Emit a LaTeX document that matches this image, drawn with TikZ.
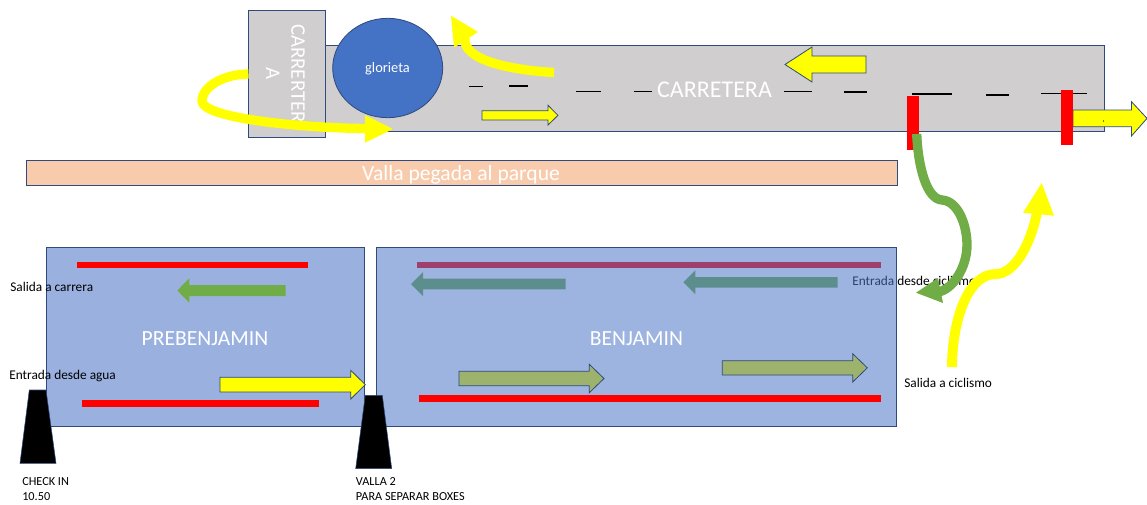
\documentclass[tikz,border=0pt]{standalone}
\usepackage{fontspec}
\setmainfont{Carlito}
\definecolor{edge}{HTML}{2F4A7C}
\definecolor{road}{HTML}{D0CECE}
\definecolor{blob}{HTML}{4472C4}
\definecolor{peach}{HTML}{F8CBAD}
\definecolor{preb}{HTML}{9AB1DF}
\definecolor{benj}{HTML}{4D75C7}
\definecolor{grn}{HTML}{70AD47}
\definecolor{yel}{HTML}{FFFF00}
\definecolor{redd}{HTML}{FF0000}
\newcommand{\rightblock}[7]{(#1,#4) -- (#2,#4) -- (#2,#6) -- (#3,{(#4+#5)/2}) -- (#2,#7) -- (#2,#5) -- (#1,#5) -- cycle}
\tikzset{
  x=0.75pt,y=-0.75pt,
  roadbox/.style={draw=edge,fill=road,line width=0.6pt},
  dashline/.style={draw=black,line width=0.8pt},
  barline/.style={fill=redd,draw=none},
  outarrow/.style={draw=edge,line width=0.6pt,fill=yel},
  flat/.style={fill=grn,draw=none},
  curvey/.style={draw=yel,line width=7pt},
  curveg/.style={draw=grn,line width=7pt},
  wtext/.style={text=white,inner sep=0pt,anchor=center},
  ktext/.style={text=black,inner sep=0pt,anchor=base west,font=\fontsize{10pt}{12pt}\selectfont},
  caps/.style={ktext,font=\fontsize{9.2pt}{11pt}\selectfont},
  cone/.style={fill=black,draw=edge,line width=0.4pt},
}
\begin{document}
\begin{tikzpicture}
\useasboundingbox (0,0) rectangle (1147,504);
% road
\draw[roadbox] (325,45) rectangle (1104.5,131);
\draw[roadbox] (248.5,10) rectangle (325,137);
\node[wtext,rotate=-90,align=center,font=\fontsize{15.6pt}{19pt}\selectfont] (cv) at (285.5,73.5) {CARRERTER\\A};
\draw[draw=edge,line width=0.6pt,fill=blob] (387.7,68) ellipse [x radius=55,y radius=49.7];
\node[wtext,font=\fontsize{10.8pt}{13pt}\selectfont] (glo) at (387.5,68.5) {glorieta};
% dashes
\foreach \a/\b/\y in {469/483/86.5,509/528/86,576/601/91.5,634/652/91.5,784/812/91.5,844/867/92,912/952/94,986/1009/95,1041/1087/93.5}
  \draw[dashline] (\a,\y) -- (\b,\y);
\node[wtext,font=\fontsize{18pt}{21pt}\selectfont] (car) at (714.5,90) {CARRETERA};
% road arrows
\draw[outarrow] \rightblock{482}{548}{558}{110.7}{120}{105.3}{125};
\draw[outarrow] (866,56) -- (812,56) -- (812,47) -- (785,64.5) -- (812,82) -- (812,73) -- (866,73) -- cycle;
\draw[outarrow] \rightblock{1073}{1131.5}{1147}{110}{126.7}{101.7}{136};
\fill[black] (1103.5,121) circle (0.7);
\fill[barline] (907.3,96) rectangle (919.3,150);
\fill[barline] (1061,90) rectangle (1073,144.7);
% fence
\draw[draw=edge,line width=0.6pt,fill=peach] (26,160) rectangle (897,185);
\node[wtext,font=\fontsize{16.2pt}{19pt}\selectfont] (valla) at (461,174.5) {Valla pegada al parque};
% prebenjamin
\draw[draw=edge,line width=0.6pt,fill=preb] (46.7,247.7) rectangle (364.3,426.7);
\fill[barline] (77,262) rectangle (307.7,268);
\fill[barline] (82,400) rectangle (319,407);
\fill[flat] (285.7,285) -- (189.3,285) -- (189.3,278.3) -- (177.3,290.5) -- (189.3,302.7) -- (189.3,296) -- (285.7,296) -- cycle;
\draw[outarrow] \rightblock{220}{350.7}{365.3}{377.3}{392}{370.3}{399};
\node[wtext,font=\fontsize{16.2pt}{19pt}\selectfont] (pre) at (205,339) {PREBENJAMIN};
\node[ktext] (sc) at (10,291.5) {Salida a carrera};
\node[ktext] (ea) at (9,379.5) {Entrada desde agua};
% benjamin: the box lies over its arrows and top line
\node[ktext] (ec) at (852,285) {Entrada desde ciclismo};
\fill[barline] (417,262) rectangle (881,268);
\fill[flat] (565.7,278.7) -- (423,278.7) -- (423,272) -- (411,284) -- (423,296) -- (423,289.3) -- (565.7,289.3) -- cycle;
\fill[flat] (837.7,277) -- (695.3,277) -- (695.3,270.3) -- (683.3,282.3) -- (695.3,294.3) -- (695.3,287.7) -- (837.7,287.7) -- cycle;
\fill[yel] \rightblock{459}{589.3}{604}{371.3}{385.7}{364.3}{392.7};
\fill[yel] \rightblock{722.3}{852.7}{867.3}{360.7}{375}{353.7}{382};
\fill[benj,fill opacity=0.55] (376.3,247.7) rectangle (896.7,426.7);
\draw[draw=edge,line width=0.6pt] \rightblock{459}{589.3}{604}{371.3}{385.7}{364.3}{392.7};
\draw[draw=edge,line width=0.6pt] \rightblock{722.3}{852.7}{867.3}{360.7}{375}{353.7}{382};
\draw[draw=edge,line width=0.6pt] (376.3,247.7) rectangle (896.7,426.7);
\fill[barline] (418.5,395) rectangle (881,402);
\node[wtext,font=\fontsize{16.2pt}{19pt}\selectfont] (ben) at (636.5,339) {BENJAMIN};
% cones
\draw[cone] (29.3,390) -- (46,390) -- (56,463.3) -- (20,463.3) -- cycle;
\draw[cone] (365.3,395.3) -- (382.3,395.3) -- (391.7,468.7) -- (355.7,468.7) -- cycle;
\node[caps] (ci) at (22,485) {CHECK IN};
\node[caps] (t) at (22,500) {10.50};
\node[caps] (v2) at (355.7,485) {VALLA 2};
\node[caps] (pb) at (355.7,500) {PARA SEPARAR BOXES};
\node[ktext] (sci) at (904,387.5) {Salida a ciclismo};
% curved yellow arrows
\draw[curvey] (248.5,74) .. controls (225,74) and (202,86) .. (202,101) .. controls (202,118) and (300,128) .. (366,128.5);
\fill[yel] (365,115) -- (393,129) -- (365,142.7) -- cycle;
\draw[curvey] (554,72.5) .. controls (510,70) and (462,60) .. (465,38);
\fill[yel] (451,15.7) -- (478,32) -- (454,47.7) -- cycle;
\draw[curvey,line width=7.4pt] (952,367) .. controls (952,325) and (966,274) .. (996,274) .. controls (1016,274) and (1032,240) .. (1037,212);
\fill[yel] (1041.7,183) -- (1054,215.7) -- (1023,212.7) -- cycle;
% curved green arrow
\draw[curveg] (916.7,134) .. controls (918,165) and (926,199) .. (942,200) .. controls (958,201) and (967,225) .. (967,245) .. controls (967,268) and (952,290) .. (938,292);
\fill[grn] (916,292.7) -- (938,278) -- (943,303) -- cycle;
\end{tikzpicture}
\end{document}
